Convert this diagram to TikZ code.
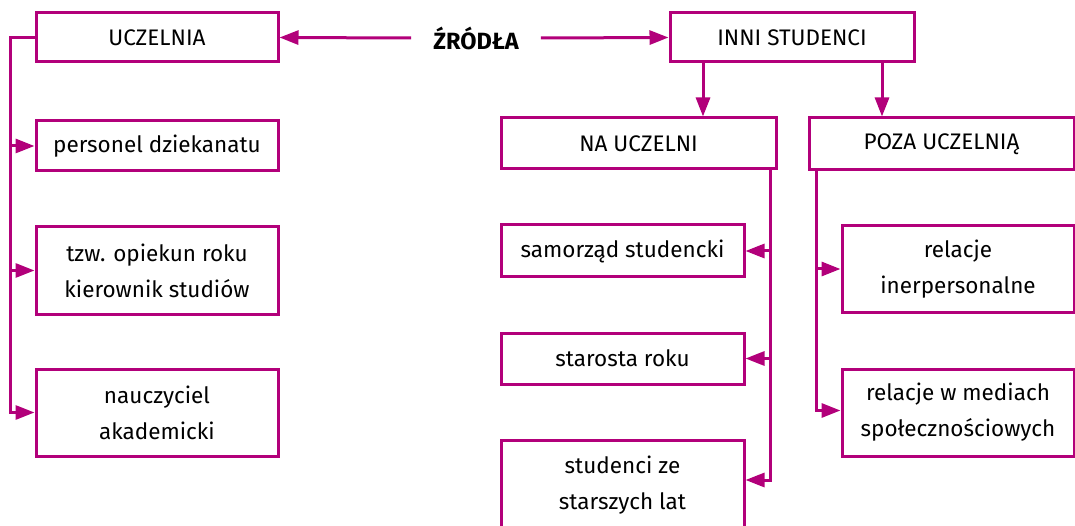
\documentclass[tikz,border=0pt]{standalone}
\usepackage{fontspec}
\setmainfont{Fira Sans}
\usetikzlibrary{arrows.meta}
\definecolor{mag}{RGB}{178,0,122}
\begin{document}
\begin{tikzpicture}[x=1pt,y=-1pt,
  box/.style={draw=mag,line width=3pt,rectangle,align=center,inner sep=0pt,
    font=\fontsize{22.5}{36}\selectfont,text=black},
  ln/.style={draw=mag,line width=3pt},
  arr/.style={ln,-{Triangle[length=19pt,width=14pt]}}]
\useasboundingbox (0,0) rectangle (1075,526);
% left column
\node[box,minimum width=242pt,minimum height=49pt] (ucz) at (157,37.5) {UCZELNIA};
\node[box,minimum width=242pt,minimum height=50pt] (pers) at (157,146) {personel dziekanatu};
\node[box,minimum width=242pt,minimum height=87pt] (opiek) at (157,270.5) {tzw. opiekun roku\\kierownik studiów};
\node[box,minimum width=242pt,minimum height=87pt] (nauc) at (157,412.5) {nauczyciel\\akademicki};
% center
\node[font=\fontsize{23.5}{24}\selectfont\bfseries,inner xsep=22pt] (zr) at (476,38) {ŹRÓDŁA};
\node[box,minimum width=244pt,minimum height=49pt] (inni) at (792,37.5) {INNI STUDENCI};
% NA UCZELNI column
\node[box,minimum width=275pt,minimum height=51pt] (na) at (638.5,143.5) {NA UCZELNI};
\node[box,minimum width=243pt,minimum height=52pt] (sam) at (622.5,251) {samorząd studencki};
\node[box,minimum width=243pt,minimum height=51pt] (star) at (622.5,358.5) {starosta roku};
\node[box,minimum width=243pt,minimum height=90pt] (stud) at (622.5,485) {studenci ze\\starszych lat};
% POZA column
\node[box,minimum width=265pt,minimum height=52pt] (poza) at (941.5,144) {POZA UCZELNIĄ};
\node[box,minimum width=232pt,minimum height=86pt] (rel) at (958,269) {relacje\\inerpersonalne};
\node[box,minimum width=232pt,minimum height=87pt] (med) at (958,412.5) {relacje w mediach\\społecznościowych};
% top connectors
\draw[arr] (zr.west) -- (ucz.east);
\draw[arr] (zr.east) -- (inni.west);
\draw[arr] ([xshift=-89pt]inni.south) -- ([xshift=-89pt]inni.south |- na.north);
\draw[arr] ([xshift=90pt]inni.south) -- ([xshift=90pt]inni.south |- poza.north);
% left trunk
\coordinate (lt) at ([xshift=-24pt]ucz.west);
\draw[arr] (ucz.west) -- (lt) -- (lt |- nauc.west) -- (nauc.west);
\draw[arr] (lt |- pers.west) -- (pers.west);
\draw[arr] (lt |- opiek.west) -- (opiek.west);
% NA trunk
\coordinate (nt) at ([xshift=25pt]sam.east);
\draw[arr] (nt |- na.south) -- ([yshift=5pt]nt |- stud.east) -- ([yshift=5pt]stud.east);
\draw[arr] (nt |- sam.east) -- (sam.east);
\draw[arr] (nt |- star.east) -- (star.east);
% POZA trunk
\coordinate (pt) at ([xshift=-24pt]rel.west);
\draw[arr] (pt |- poza.south) -- ([yshift=2pt]pt |- med.west) -- ([yshift=2pt]med.west);
\draw[arr] (pt |- rel.west) -- (rel.west);
\end{tikzpicture}
\end{document}
